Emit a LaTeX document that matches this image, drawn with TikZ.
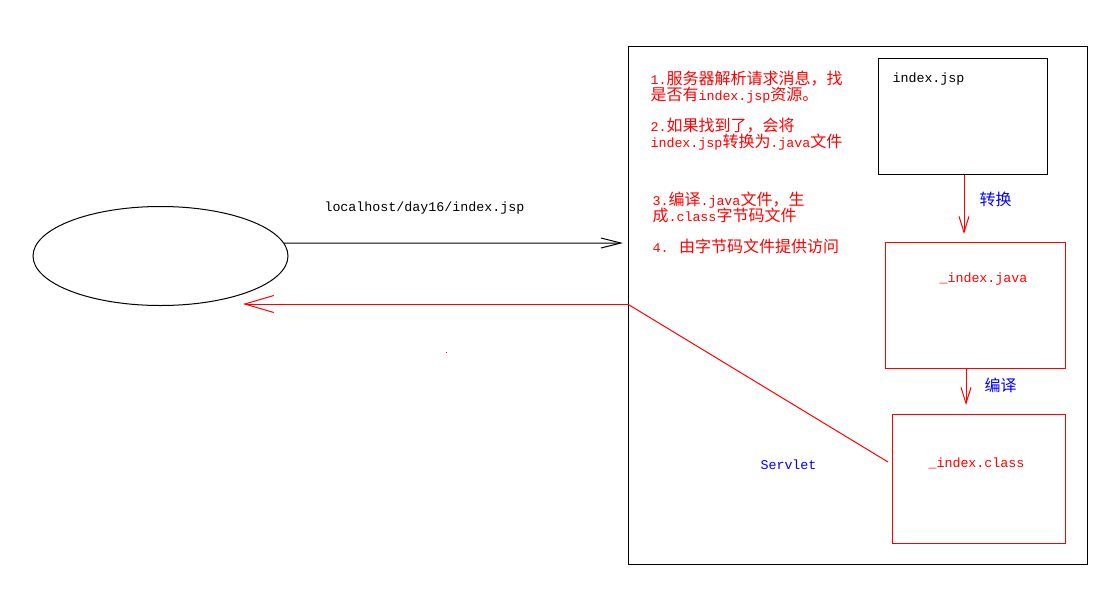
\documentclass[tikz,border=0pt]{standalone}
\usepackage{fontspec}
\setmainfont{Liberation Mono}
\newfontfamily\cjk{Noto Sans CJK SC}
\usetikzlibrary{shapes.geometric,arrows.meta}
\newcommand\zh[1]{{\cjk\fontsize{16}{16}\selectfont #1}}
\tikzset{
  txt/.style={inner sep=0pt, anchor=base west, font=\fontsize{13.33}{16}\selectfont},
  box/.style={draw, rectangle, inner sep=0pt, line width=1pt},
  vhead/.style={-{Straight Barb[length=16pt,width=10pt]}},
}
\begin{document}
\begin{tikzpicture}[x=1pt,y=-1pt,line width=1pt]
\useasboundingbox (0,0) rectangle (1109,592);
% client ellipse
\node[draw, ellipse, minimum width=255pt, minimum height=99pt, inner sep=0pt] (client) at (160.5,256) {};
% server box
\node[box, minimum width=459pt, minimum height=518pt] (server) at (857.5,305) {};
% inner boxes
\node[box, minimum width=169pt, minimum height=116pt] (jsp) at (962.5,116) {};
\node[box, red, minimum width=180pt, minimum height=126pt] (java) at (975,305) {};
\node[box, red, minimum width=173pt, minimum height=129pt] (cls) at (978.5,478.5) {};
% box labels
\node[txt] (jsptxt) at (892,82) {index.jsp};
\node[txt, red] (javatxt) at (939,282) {\_index.java};
\node[txt, red] (clstxt) at (928,467) {\_index.class};
% arrows inside server
\coordinate (a1) at (964,234);
\draw[red, vhead] (jsp.south -| a1) -- (a1);
\node[txt, blue] (zh1) at (979,205) {\zh{转换}};
\coordinate (a2) at (966,405);
\draw[red, vhead] (java.south -| a2) -- (a2);
\node[txt, blue] (zh2) at (984,391) {\zh{编译}};
% request arrow
\coordinate (reqend) at (623,243);
\draw[-{Straight Barb[length=20pt,width=10pt]}] (client.6) -- (reqend);
\node[txt] (url) at (324,211) {localhost/day16/index.jsp};
% response arrow
\coordinate (ret) at (server.west |- 0,304);
\coordinate (resend) at (243,304);
\draw[red, -{Straight Barb[length=29pt,width=17pt]}] (ret) -- (resend);
\coordinate (diagend) at (888,462);
\draw[red] (ret) -- (diagend);
\node[txt, blue] (servlet) at (760,469) {Servlet};
\fill[red] (446,352) rectangle (447.2,353.2);
% steps text
\node[txt, red] (s1a) at (650,84) {1.\zh{服务器解析请求消息，找}};
\node[txt, red] (s1b) at (650,100) {\zh{是否有}index.jsp\zh{资源。}};
\node[txt, red] (s2a) at (650,131) {2.\zh{如果找到了，会将}};
\node[txt, red] (s2b) at (650,147) {index.jsp\zh{转换为}.java\zh{文件}};
\node[txt, red] (s3a) at (652,205) {3.\zh{编译}.java\zh{文件，生}};
\node[txt, red] (s3b) at (652,221) {\zh{成}.class\zh{字节码文件}};
\node[txt, red] (s4) at (652,252) {4. \zh{由字节码文件提供访问}};
\end{tikzpicture}
\end{document}
